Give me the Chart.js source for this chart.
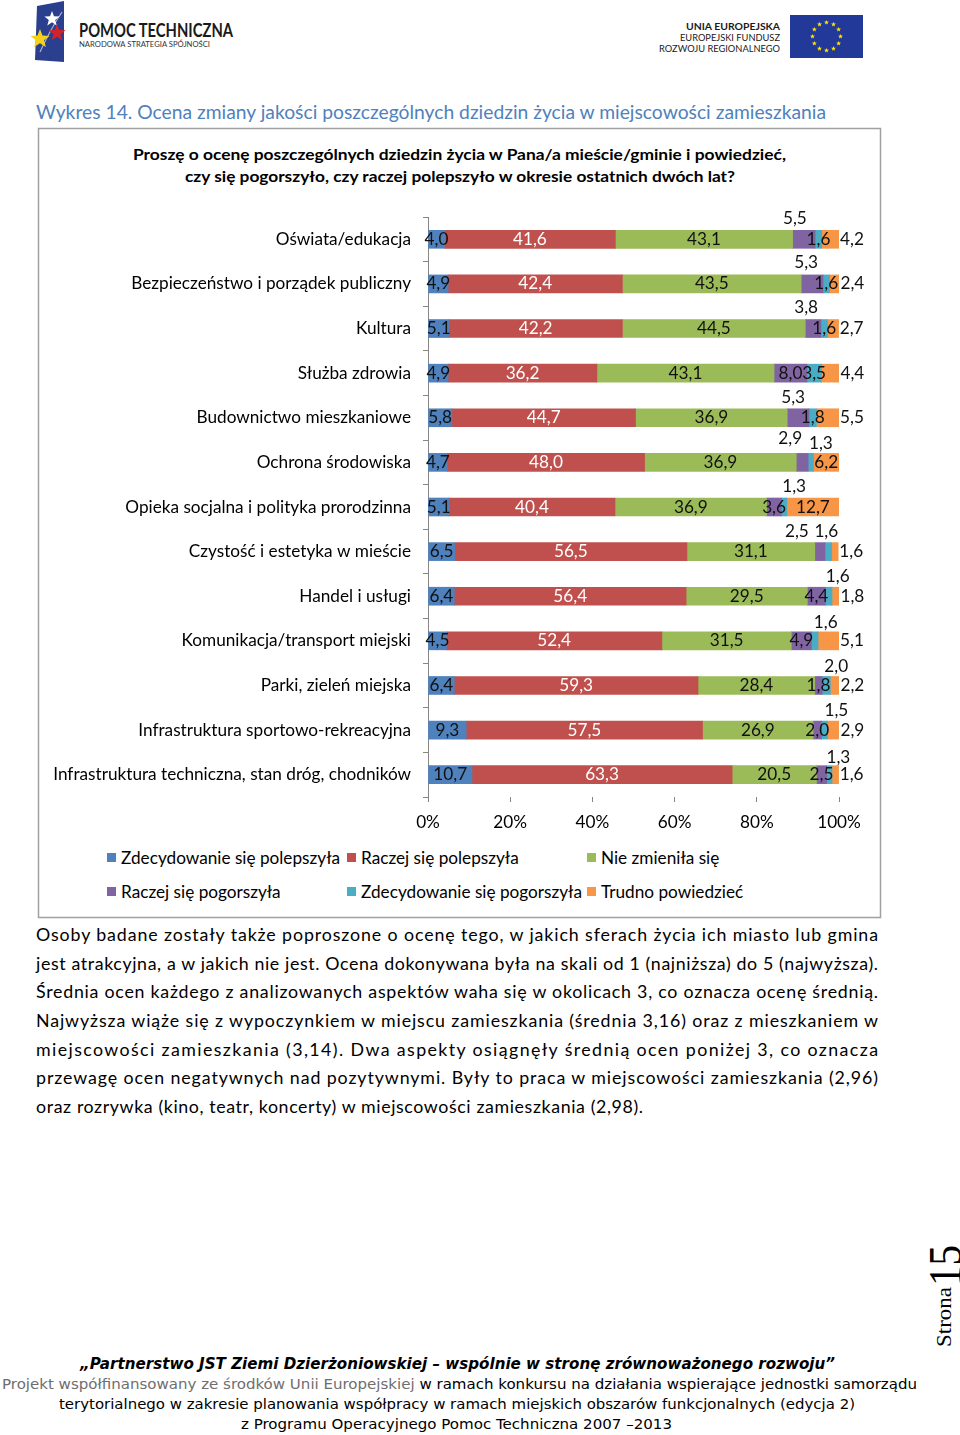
<!DOCTYPE html>
<html><head><meta charset="utf-8">
<script src="https://cdn.jsdelivr.net/npm/chart.js@4.4.0/dist/chart.umd.min.js"></script>
<style>
html,body{margin:0;padding:0;background:#fff;}
#page{position:relative;width:960px;height:1435px;overflow:hidden;background:#fff;}
#overlay{position:absolute;left:0;top:0;}
#chart{position:absolute;left:38px;top:200px;}
</style></head><body>
<div id="page">
<svg id="overlay" width="960" height="1435" xmlns="http://www.w3.org/2000/svg">
  <!-- left logo -->
  <polygon points="37,6 64,1 64,62 35,60" fill="#2a3f8e"/>
  <path d="M40,52 Q50,30 62,12" stroke="#ffffff" stroke-width="1.2" fill="none" opacity="0.6"/>
  <g id="stars"></g>
  <text x="79" y="37" font-family="Lato, sans-serif" font-size="18" font-weight="bold" fill="#1a1a1a" textLength="154" lengthAdjust="spacingAndGlyphs">POMOC TECHNICZNA</text>
  <text x="79" y="47" font-family="Lato, sans-serif" font-size="8" fill="#333" textLength="131" lengthAdjust="spacingAndGlyphs">NARODOWA STRATEGIA SPÓJNOŚCI</text>
  <!-- right logo -->
  <text x="780" y="30" text-anchor="end" font-family="Lato, sans-serif" font-size="10" font-weight="bold" fill="#1a1a1a" textLength="94" lengthAdjust="spacingAndGlyphs">UNIA EUROPEJSKA</text>
  <text x="780" y="41" text-anchor="end" font-family="Lato, sans-serif" font-size="10" fill="#1a1a1a" textLength="100" lengthAdjust="spacingAndGlyphs">EUROPEJSKI FUNDUSZ</text>
  <text x="780" y="52" text-anchor="end" font-family="Lato, sans-serif" font-size="10" fill="#1a1a1a" textLength="121" lengthAdjust="spacingAndGlyphs">ROZWOJU REGIONALNEGO</text>
  <rect x="790" y="15" width="73" height="43" fill="#22399a"/>
  <g id="eustars"></g>
  <!-- title -->
  <text x="36" y="119" font-family="Lato, sans-serif" font-size="19.5" fill="#4F81BD" textLength="790" lengthAdjust="spacingAndGlyphs">Wykres 14. Ocena zmiany jakości poszczególnych dziedzin życia w miejscowości zamieszkania</text>
  <!-- chart box -->
  <rect x="38.5" y="128.5" width="842" height="789" fill="none" stroke="#a0a0a0" stroke-width="1.5"/>
  <text x="133" y="160" font-family="Lato, sans-serif" font-size="15.5" font-weight="bold" fill="#000" textLength="653" lengthAdjust="spacingAndGlyphs">Proszę o ocenę poszczególnych dziedzin życia w Pana/a mieście/gminie i powiedzieć,</text>
  <text x="185" y="182" font-family="Lato, sans-serif" font-size="15.5" font-weight="bold" fill="#000" textLength="550" lengthAdjust="spacingAndGlyphs">czy się pogorszyło, czy raczej polepszyło w okresie ostatnich dwóch lat?</text>
  <g id="legend"></g>
  <!-- paragraph -->
  <g font-family="Lato, sans-serif" font-size="17.8" fill="#000">
    <text x="36" y="941" textLength="842" lengthAdjust="spacing">Osoby badane zostały także poproszone o ocenę tego, w jakich sferach życia ich miasto lub gmina</text>
    <text x="36" y="970" textLength="842" lengthAdjust="spacing">jest atrakcyjna, a w jakich nie jest. Ocena dokonywana była na skali od 1 (najniższa) do 5 (najwyższa).</text>
    <text x="36" y="998" textLength="842" lengthAdjust="spacing">Średnia ocen każdego z analizowanych aspektów waha się w okolicach 3, co oznacza ocenę średnią.</text>
    <text x="36" y="1027" textLength="842" lengthAdjust="spacing">Najwyższa wiąże się z wypoczynkiem w miejscu zamieszkania (średnia 3,16) oraz z mieszkaniem w</text>
    <text x="36" y="1056" textLength="842" lengthAdjust="spacing">miejscowości zamieszkania (3,14). Dwa aspekty osiągnęły średnią ocen poniżej 3, co oznacza</text>
    <text x="36" y="1084" textLength="842" lengthAdjust="spacing">przewagę ocen negatywnych nad pozytywnymi. Były to praca w miejscowości zamieszkania (2,96)</text>
    <text x="36" y="1113" textLength="607" lengthAdjust="spacing">oraz rozrywka (kino, teatr, koncerty) w miejscowości zamieszkania (2,98).</text>
  </g>
  <!-- page number -->
  <text transform="translate(951,1347) rotate(-90)" font-family="Liberation Serif, serif" font-size="21" fill="#000" textLength="60" lengthAdjust="spacingAndGlyphs">Strona</text>
  <text transform="translate(961,1286) rotate(-90)" font-family="Liberation Serif, serif" font-size="46" fill="#000" textLength="41" lengthAdjust="spacingAndGlyphs">15</text>
  <!-- footer -->
  <text x="80" y="1369" font-family="DejaVu Sans, sans-serif" font-size="15" font-weight="bold" font-style="italic" fill="#000" textLength="755" lengthAdjust="spacingAndGlyphs">„Partnerstwo JST Ziemi Dzierżoniowskiej – wspólnie w stronę zrównoważonego rozwoju”</text>
  <text x="2" y="1389" font-family="DejaVu Sans, sans-serif" font-size="14.5" fill="#000" textLength="915" lengthAdjust="spacingAndGlyphs"><tspan fill="#6e6e6e">Projekt współfinansowany ze środków Unii Europejskiej</tspan> w ramach konkursu na działania wspierające jednostki samorządu</text>
  <text x="59" y="1409" font-family="DejaVu Sans, sans-serif" font-size="14.5" fill="#000" textLength="796" lengthAdjust="spacingAndGlyphs">terytorialnego w zakresie planowania współpracy w ramach miejskich obszarów funkcjonalnych (edycja 2)</text>
  <text x="241" y="1429" font-family="DejaVu Sans, sans-serif" font-size="14.5" fill="#000" textLength="431" lengthAdjust="spacingAndGlyphs">z Programu Operacyjnego Pomoc Techniczna 2007 –2013</text>
</svg>
<canvas id="chart" width="843" height="650"></canvas>
</div>
<script>
// ---- DATA ----
const categories = [
  'Oświata/edukacja',
  'Bezpieczeństwo i porządek publiczny',
  'Kultura',
  'Służba zdrowia',
  'Budownictwo mieszkaniowe',
  'Ochrona środowiska',
  'Opieka socjalna i polityka prorodzinna',
  'Czystość i estetyka w mieście',
  'Handel i usługi',
  'Komunikacja/transport miejski',
  'Parki, zieleń miejska',
  'Infrastruktura sportowo-rekreacyjna',
  'Infrastruktura techniczna, stan dróg, chodników'
];
const seriesNames = [
  'Zdecydowanie się polepszyła',
  'Raczej się polepszyła',
  'Nie zmieniła się',
  'Raczej się pogorszyła',
  'Zdecydowanie się pogorszyła',
  'Trudno powiedzieć'
];
const zdecydowaniePolepszyla = [4.0, 4.9, 5.1, 4.9, 5.8, 4.7, 5.1, 6.5, 6.4, 4.5, 6.4, 9.3, 10.7];
const raczejPolepszyla       = [41.6, 42.4, 42.2, 36.2, 44.7, 48.0, 40.4, 56.5, 56.4, 52.4, 59.3, 57.5, 63.3];
const nieZmienila            = [43.1, 43.5, 44.5, 43.1, 36.9, 36.9, 36.9, 31.1, 29.5, 31.5, 28.4, 26.9, 20.5];
const raczejPogorszyla       = [5.5, 5.3, 3.8, 8.0, 5.3, 2.9, 3.6, 2.5, 4.4, 4.9, 1.8, 2.0, 2.5];
const zdecydowaniePogorszyla = [1.6, 1.6, 1.6, 3.5, 1.8, 1.3, 1.3, 1.6, 1.6, 1.6, 2.0, 1.5, 1.3];
const trudnoPowiedziec       = [4.2, 2.4, 2.7, 4.4, 5.5, 6.2, 12.7, 1.6, 1.8, 5.1, 2.2, 2.9, 1.6];
const xTickValues = [0, 20, 40, 60, 80, 100];

// ---- STYLE ----
const seriesData = [zdecydowaniePolepszyla, raczejPolepszyla, nieZmienila, raczejPogorszyla, zdecydowaniePogorszyla, trudnoPowiedziec];
const colors = ['#4F81BD', '#C0504D', '#9BBB59', '#8064A2', '#4BACC6', '#F79646'];
const labelColors = ['#111', '#fff', '#111', '#111', '#111', '#111'];
// placement of labels for the last three series: c = centre, a = above (dx, dy), r = right of bar
const labelPlacement = [
  [['a',-9,-21],['c'],['r']],
  [['a',-6,-21],['c'],['r']],
  [['a',-7,-21],['c'],['r']],
  [['c'],['c'],['r']],
  [['a',-5,-20],['c'],['r']],
  [['a',-12,-24],['a',10,-19],['c']],
  [['c'],['a',10,-21],['c']],
  [['a',-23,-20],['a',-2,-20],['r']],
  [['c'],['a',9,-20],['r']],
  [['c'],['a',11,-18],['r']],
  [['c'],['a',10,-19],['r']],
  [['c'],['a',12,-20],['r']],
  [['c'],['a',9,-17],['r']]
];
const FONT = "Lato, 'Open Sans', sans-serif";
const FSIZE = 17.2;
const fmt = v => v.toFixed(1).replace('.', ',');

// ---- SVG decorations ----
const NS = 'http://www.w3.org/2000/svg';
function starPath(cx, cy, r) {
  let d = '';
  for (let i = 0; i < 10; i++) {
    const rr = i % 2 === 0 ? r : r * 0.42;
    const a = -Math.PI / 2 + i * Math.PI / 5;
    d += (i === 0 ? 'M' : 'L') + (cx + rr * Math.cos(a)).toFixed(2) + ',' + (cy + rr * Math.sin(a)).toFixed(2);
  }
  return d + 'Z';
}
function addStar(g, cx, cy, r, fill) {
  const p = document.createElementNS(NS, 'path');
  p.setAttribute('d', starPath(cx, cy, r));
  p.setAttribute('fill', fill);
  g.appendChild(p);
}
const sg = document.getElementById('stars');
addStar(sg, 52, 19, 8, '#ffffff');
addStar(sg, 57, 33, 9, '#d2232a');
addStar(sg, 40, 39, 10, '#f7d117');
const eg = document.getElementById('eustars');
for (let i = 0; i < 12; i++) {
  const a = i * Math.PI / 6;
  addStar(eg, 826.5 + 14 * Math.cos(a), 36.5 + 14 * Math.sin(a), 2.6, '#ffe500');
}
// legend
const lg = document.getElementById('legend');
const legCols = [107, 347, 587], legRows = [858, 892];
seriesNames.forEach((name, i) => {
  const cx = legCols[i % 3], cy = legRows[Math.floor(i / 3)];
  const r = document.createElementNS(NS, 'rect');
  r.setAttribute('x', cx); r.setAttribute('y', cy - 5);
  r.setAttribute('width', 9); r.setAttribute('height', 9);
  r.setAttribute('fill', colors[i]);
  lg.appendChild(r);
  const t = document.createElementNS(NS, 'text');
  t.setAttribute('x', cx + 14); t.setAttribute('y', cy + 6);
  t.setAttribute('font-family', FONT); t.setAttribute('font-size', String(FSIZE));
  t.setAttribute('fill', '#000');
  t.textContent = name;
  lg.appendChild(t);
});

// ---- CHART ----
Chart.defaults.font.family = FONT;
Chart.defaults.font.size = FSIZE;
Chart.defaults.color = '#000';

const labelPlugin = {
  id: 'segLabels',
  afterDatasetsDraw(chart) {
    const ctx = chart.ctx;
    ctx.save();
    ctx.font = FSIZE + 'px ' + FONT;
    ctx.textBaseline = 'middle';
    ctx.textAlign = 'center';
    const lastMeta = chart.getDatasetMeta(chart.data.datasets.length - 1);
    chart.data.datasets.forEach((ds, di) => {
      const meta = chart.getDatasetMeta(di);
      meta.data.forEach((el, ri) => {
        const v = ds.data[ri];
        const place = di >= 3 ? labelPlacement[ri][di - 3] : ['c'];
        let x = (el.x + el.base) / 2, y = el.y;
        if (place[0] === 'a') { x += place[1]; y += place[2]; }
        else if (place[0] === 'r') { x = lastMeta.data[ri].x + 13; }
        ctx.fillStyle = labelColors[di];
        ctx.fillText(fmt(v), x, y);
      });
    });
    ctx.restore();
  }
};

new Chart(document.getElementById('chart'), {
  type: 'bar',
  data: {
    labels: categories,
    datasets: seriesNames.map((n, i) => ({
      label: n, data: seriesData[i], backgroundColor: colors[i],
      barThickness: 18, borderWidth: 0
    }))
  },
  options: {
    indexAxis: 'y', responsive: false, animation: false,
    layout: { padding: { left: 0, right: 42, top: 17, bottom: 0 } },
    plugins: { legend: { display: false }, tooltip: { enabled: false } },
    scales: {
      x: {
        stacked: true, min: 0, max: 100,
        afterBuildTicks: s => { s.ticks = xTickValues.map(v => ({ value: v })); },
        ticks: { callback: v => v + '%', color: '#000', padding: 10, maxRotation: 0 },
        grid: { drawOnChartArea: false, drawTicks: true, tickLength: 5, color: '#868686' },
        border: { display: false },
        afterFit: s => { s.height = 53; }
      },
      y: {
        stacked: true,
        ticks: { color: '#000', padding: 12, autoSkip: false },
        grid: { drawOnChartArea: false, drawTicks: true, tickLength: 5, color: '#868686', offset: true },
        border: { display: true, color: '#868686' },
        afterFit: s => { s.width = 390; s.paddingTop = 0; s.paddingBottom = 0; }
      }
    }
  },
  plugins: [labelPlugin]
});
</script>
</body></html>
